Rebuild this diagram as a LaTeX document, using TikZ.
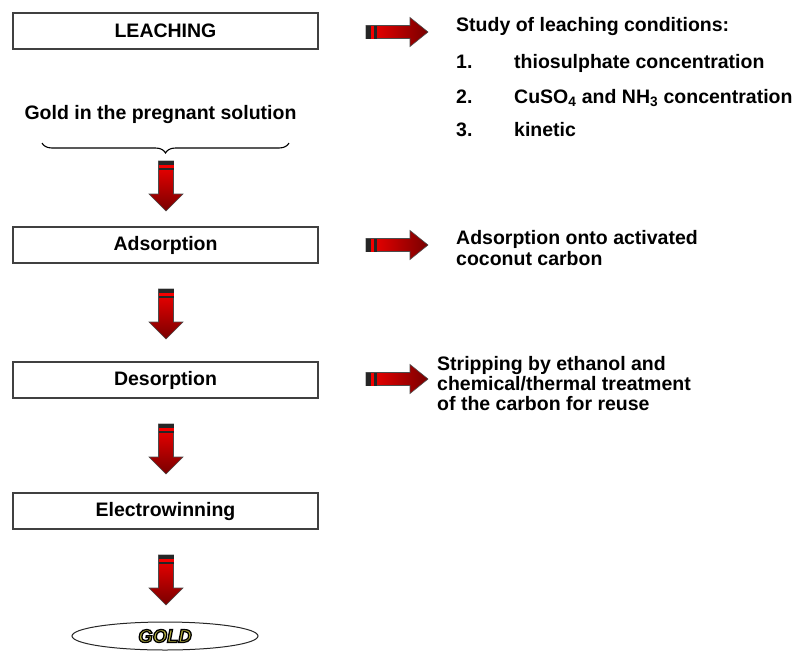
\documentclass[tikz,border=0pt]{standalone}
\usepackage{fontspec}
\setmainfont{Liberation Sans}
\usepackage{xcolor}
\usepackage{tikz}
\usetikzlibrary{shapes.geometric,decorations.pathreplacing}

\definecolor{arrowred}{RGB}{245,0,0}
\definecolor{arrowdark}{RGB}{120,0,0}
\definecolor{goldtext}{RGB}{184,178,64}
% outlined letters: fill and stroke the glyphs
\newcommand{\outlined}[1]{\textcolor{goldtext}{\special{pdf:code 0 0 0 RG 1.3 w 2 Tr}#1\special{pdf:code 0 Tr}}}

\tikzset{
  stage/.style={draw=black!75, line width=1.3pt, minimum width=305, minimum height=36,
    inner sep=0pt, font=\fontsize{19.5}{21}\selectfont\bfseries},
  note/.style={inner sep=0pt, anchor=base west, font=\fontsize{19.5}{21}\selectfont\bfseries},
  downarr/.pic={
    \shade[top color=arrowred, middle color=arrowred, bottom color=arrowdark, draw=black!70, line width=0.6pt]
      (-7.5,-25) -- (7.5,-25) -- (7.5,8) -- (17,8) -- (0,25) -- (-17,8) -- (-7.5,8) -- cycle;
    \fill[black!85] (-7.5,-25) rectangle (7.5,-21);
    \fill[arrowred] (-7.5,-21) rectangle (7.5,-18.5);
    \fill[black!85] (-7.5,-18.5) rectangle (7.5,-16.5);
  },
  rightarr/.pic={
    \shade[left color=arrowred, middle color=arrowred, right color=arrowdark, draw=black!70, line width=0.6pt]
      (-31,-6.5) -- (13,-6.5) -- (13,-14.5) -- (31,0) -- (13,14.5) -- (13,6.5) -- (-31,6.5) -- cycle;
    \fill[black!85] (-31,-6.5) rectangle (-26,6.5);
    \fill[arrowred] (-26,-6.5) rectangle (-23,6.5);
    \fill[black!85] (-23,-6.5) rectangle (-20.5,6.5);
  }
}

\begin{document}
\begin{tikzpicture}[x=1pt,y=-1pt]
  \useasboundingbox (0,0) rectangle (795,651);

  % process stages
  \node[stage] (leach) at (165.5,31) {LEACHING};
  \node[stage] (ads) at (165.5,245) {Adsorption};
  \node[stage] (des) at (165.5,380) {Desorption};
  \node[stage] (elec) at (165.5,511) {Electrowinning};
  \node[ellipse, draw=black!85, line width=1pt, minimum width=186, minimum height=28, inner sep=0pt,
    font=\fontsize{18.5}{20}\selectfont\bfseries\itshape] (gold) at (165,636) {\outlined{GOLD}};

  \node[note, anchor=base] (preg) at (160.5,119) {Gold in the pregnant solution};
  \coordinate (bl) at (42,143);
  \coordinate (br) at (289,143);
  \draw[black, line width=1.1pt, decorate, decoration={brace, mirror, amplitude=10}] (bl) -- (br);

  \foreach \y in {186,314,449,580}
    \pic at (166,\y) {downarr};
  \foreach \y in {32,245,379}
    \pic at (397,\y) {rightarr};

  % notes on the right
  \node[note] (study) at (456,31) {Study of leaching conditions:};
  \node[note] (n1) at (456,68) {1.};
  \node[note] (c1) at (514,68) {thiosulphate concentration};
  \node[note] (n2) at (456,103) {2.};
  \node[note] (c2) at (514,103) {CuSO\textsubscript{4} and NH\textsubscript{3} concentration};
  \node[note] (n3) at (456,136) {3.};
  \node[note] (c3) at (514,136) {kinetic};
  \node[note, anchor=north west, align=left] (adsnote) at (456,230)
    {Adsorption onto activated\\coconut carbon};
  \node[note, anchor=north west, align=left, font=\fontsize{19.5}{20}\selectfont\bfseries] (strip) at (437,356)
    {Stripping by ethanol and\\chemical/thermal treatment\\of the carbon for reuse};
\end{tikzpicture}
\end{document}
